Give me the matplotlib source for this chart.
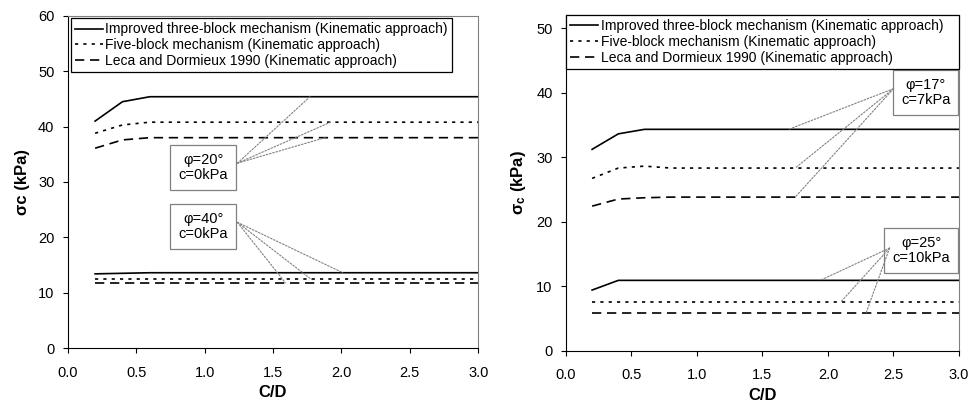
import matplotlib
matplotlib.use('Agg')
import matplotlib.pyplot as plt

plt.rcParams['font.family'] = ['Liberation Sans', 'DejaVu Sans']
plt.rcParams['mathtext.fontset'] = 'custom'
plt.rcParams['mathtext.rm'] = 'Liberation Sans'
plt.rcParams['mathtext.bf'] = 'Liberation Sans:bold'
plt.rcParams['mathtext.it'] = 'Liberation Sans:italic'
plt.rcParams['lines.scale_dashes'] = False

# C/D values of the computed points
cd = [0.2, 0.4, 0.6, 0.8, 1.0, 1.2, 1.4, 1.6, 1.8, 2.0, 2.2, 2.4, 2.6, 2.8, 3.0]

# left chart: c = 0 kPa
three_20 = [41.0, 44.5, 45.4, 45.4, 45.4, 45.4, 45.4, 45.4, 45.4, 45.4, 45.4, 45.4, 45.4, 45.4, 45.4]
five_20 = [38.8, 40.3, 40.8, 40.8, 40.8, 40.8, 40.8, 40.8, 40.8, 40.8, 40.8, 40.8, 40.8, 40.8, 40.8]
leca_20 = [36.1, 37.6, 38.0, 38.0, 38.0, 38.0, 38.0, 38.0, 38.0, 38.0, 38.0, 38.0, 38.0, 38.0, 38.0]
three_40 = [13.4, 13.5, 13.6, 13.6, 13.6, 13.6, 13.6, 13.6, 13.6, 13.6, 13.6, 13.6, 13.6, 13.6, 13.6]
five_40 = [12.4, 12.4, 12.4, 12.4, 12.4, 12.4, 12.4, 12.4, 12.4, 12.4, 12.4, 12.4, 12.4, 12.4, 12.4]
leca_40 = [11.8, 11.8, 11.8, 11.8, 11.8, 11.8, 11.8, 11.8, 11.8, 11.8, 11.8, 11.8, 11.8, 11.8, 11.8]

# right chart: cohesive soils
three_17 = [31.2, 33.6, 34.3, 34.3, 34.3, 34.3, 34.3, 34.3, 34.3, 34.3, 34.3, 34.3, 34.3, 34.3, 34.3]
five_17 = [26.7, 28.3, 28.6, 28.3, 28.3, 28.3, 28.3, 28.3, 28.3, 28.3, 28.3, 28.3, 28.3, 28.3, 28.3]
leca_17 = [22.4, 23.5, 23.7, 23.8, 23.8, 23.8, 23.8, 23.8, 23.8, 23.8, 23.8, 23.8, 23.8, 23.8, 23.8]
three_25 = [9.4, 10.9, 10.9, 10.9, 10.9, 10.9, 10.9, 10.9, 10.9, 10.9, 10.9, 10.9, 10.9, 10.9, 10.9]
five_25 = [7.6, 7.6, 7.6, 7.6, 7.6, 7.6, 7.6, 7.6, 7.6, 7.6, 7.6, 7.6, 7.6, 7.6, 7.6]
leca_25 = [5.8, 5.8, 5.8, 5.8, 5.8, 5.8, 5.8, 5.8, 5.8, 5.8, 5.8, 5.8, 5.8, 5.8, 5.8]

labels = ['Improved three-block mechanism (Kinematic approach)',
          'Five-block mechanism (Kinematic approach)',
          'Leca and Dormieux 1990 (Kinematic approach)']

# soil parameter boxes: text, box centre, leader start, leader ends
left_notes = [('φ=20°\nc=0kPa', (0.99, 32.6), (1.24, 33.4), [(1.77, 45.4), (1.92, 40.8), (1.88, 38.0)]),
              ('φ=40°\nc=0kPa', (0.99, 22.0), (1.24, 22.7), [(2.01, 13.6), (1.59, 11.8), (1.78, 12.4)])]
right_notes = [('φ=17°\nc=7kPa', (2.745, 40.0), (2.50, 40.6), [(1.70, 34.3), (1.75, 28.3), (1.75, 23.8)]),
               ('φ=25°\nc=10kPa', (2.71, 15.5), (2.47, 15.9), [(1.94, 10.9), (2.10, 7.6), (2.29, 5.8)])]

styles = [dict(color='black', lw=1.2, ls='-'),
          dict(color='black', lw=1.2, ls=(0, (2.3, 3.7))),
          dict(color='black', lw=1.2, ls=(0, (6.7, 4.1)))]


def draw_panel(ax, groups, notes, ymax, yticks, ylabel):
    for group in groups:
        for i, vals in enumerate(group):
            ax.plot(cd, vals, label=labels[i] if group is groups[0] else None, **styles[i])
    for text, centre, start, ends in notes:
        ax.text(centre[0], centre[1], text, ha='center', va='center', fontsize=10.5,
                multialignment='center', linespacing=1.1,
                bbox=dict(boxstyle='square,pad=0.55', fc='white', ec='#808080', lw=0.9))
        for end in ends:
            ax.annotate('', xy=end, xytext=start,
                        arrowprops=dict(arrowstyle='-', color='#808080', lw=0.8,
                                        ls=(0, (1.2, 1.2)), shrinkA=0, shrinkB=0))
    ax.set_xlim(0, 3.0)
    ax.set_ylim(0, ymax)
    ax.set_xticks([0.0, 0.5, 1.0, 1.5, 2.0, 2.5, 3.0])
    ax.set_xticklabels(['0.0', '0.5', '1.0', '1.5', '2.0', '2.5', '3.0'])
    ax.set_yticks(yticks)
    ax.tick_params(direction='out', length=3.6, width=0.8, labelsize=10.5)
    ax.tick_params(axis='x', pad=9)
    ax.tick_params(axis='y', pad=6)
    for side in ['top', 'right']:
        ax.spines[side].set_color('#808080')
    ax.set_xlabel('C/D', fontsize=12, fontweight='bold', labelpad=4)
    ax.set_ylabel(ylabel, fontsize=12, fontweight='bold', labelpad=6)


fig = plt.figure(figsize=(9.69, 4.08), dpi=100)
ax1 = fig.add_axes([0.0699, 0.147, 0.4237, 0.814])
ax2 = fig.add_axes([0.584, 0.1404, 0.4057, 0.8226])

draw_panel(ax1, [[three_20, five_20, leca_20], [three_40, five_40, leca_40]], left_notes,
           60, [0, 10, 20, 30, 40, 50, 60], 'σc (kPa)')
draw_panel(ax2, [[three_17, five_17, leca_17], [three_25, five_25, leca_25]], right_notes,
           52, [0, 10, 20, 30, 40, 50], 'σ$_{\\mathbf{c}}$ (kPa)')

leg_kw = dict(fontsize=10, frameon=True, fancybox=False, edgecolor='black', framealpha=1,
              handlelength=2.0, handletextpad=0.2, labelspacing=0.12, borderpad=0.3,
              borderaxespad=0, loc='upper left')
leg1 = ax1.legend(bbox_to_anchor=(0.007, 0.993), **leg_kw)
leg2 = ax2.legend(bbox_to_anchor=(0, 0.841, 1, 0.159), mode='expand', **leg_kw)
for leg in [leg1, leg2]:
    leg.get_frame().set_linewidth(0.9)

plt.savefig('out.png', dpi=100)
